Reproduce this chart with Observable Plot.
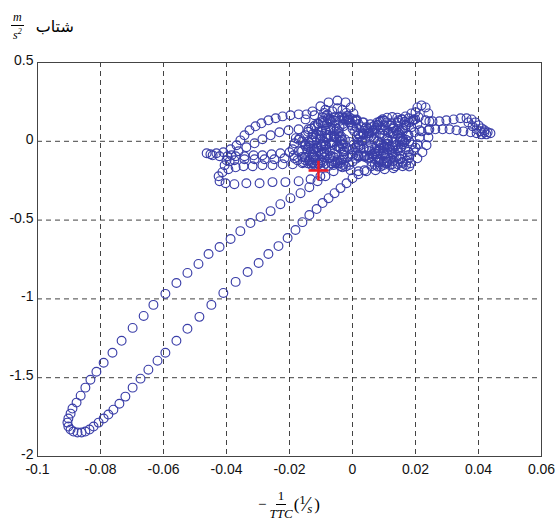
<!DOCTYPE html>
<html>
<head>
<meta charset="utf-8">
<script src="https://cdn.jsdelivr.net/npm/d3@7"></script>
<script src="https://cdn.jsdelivr.net/npm/@observablehq/plot@0.6"></script>
<style>
  html, body { margin: 0; padding: 0; background: #fff; }
  #wrap { position: relative; width: 555px; height: 524px; overflow: hidden; }
  #chart { position: absolute; left: 0; top: 0; }
  .frac { display: inline-flex; flex-direction: column; align-items: center; font-family: "Liberation Serif", serif; font-style: italic; line-height: 1; }
  .frac .num { border-bottom: 1px solid #000; padding: 0 2px 2px 2px; }
  .frac .den { padding-top: 2px; }
  #ttl { position: absolute; left: 11px; top: 11px; display: flex; align-items: center; gap: 12px; color: #000; }
  #ttl .frac { font-size: 12px; }
  #ttl .ar { font-family: "DejaVu Sans", sans-serif; font-size: 16px; }
  #xl { position: absolute; left: 37px; width: 504px; top: 489px; display: flex; justify-content: center; align-items: center; font-family: "Liberation Serif", serif; font-size: 15px; color: #000; }
  #xl .frac { font-size: 13px; font-style: normal; }
  #xl .frac .den { font-style: italic; }
  #xl .sl { display: inline-flex; align-items: center; font-size: 13px; }
  #xl .sl .a { position: relative; top: -5px; }
  #xl .sl .b { position: relative; top: 4px; font-style: italic; }
  #xl .sl .s { font-size: 20px; margin: 0 -1px; }
  #ttl sup { font-size: 8px; }
</style>
</head>
<body>
<div id="wrap">
  <div id="chart"></div>
  <div id="ttl">
    <span class="frac"><span class="num">m</span><span class="den">s<sup>2</sup></span></span>
    <span class="ar" dir="rtl">شتاب</span>
  </div>
  <div id="xl">
    <span style="margin-right:3px">−</span>
    <span class="frac"><span class="num">1</span><span class="den">TTC</span></span>
    <span style="font-size:17px;margin-left:1px">(</span><span class="sl"><span class="a">1</span><span class="s">⁄</span><span class="b">s</span></span><span style="font-size:17px;margin-left:2px">)</span>
  </div>
</div>
<script>
// Axis ticks
const xTicks = [-0.1, -0.08, -0.06, -0.04, -0.02, 0, 0.02, 0.04, 0.06];
const xTickLabels = ["-0.1", "-0.08", "-0.06", "-0.04", "-0.02", "0", "0.02", "0.04", "0.06"];
const yTicks = [0.5, 0, -0.5, -1, -1.5, -2];
const yTickLabels = ["0.5", "0", "-0.5", "-1", "-1.5", "-2"];

// Trajectory: -1/TTC (1/s) vs acceleration (m/s^2), read segment by segment
const upperX = [-0.0038,-0.0060,-0.0086,-0.0111,-0.0137,-0.0165,-0.0197,-0.0229,-0.0260,-0.0292,-0.0324,-0.0356,-0.0387,-0.0422,-0.0457,-0.0489,-0.0524,-0.0559,-0.0594,-0.0632,-0.0663,-0.0698,-0.0733,-0.0762,-0.0790,-0.0813,-0.0832,-0.0848,-0.0863,-0.0876,-0.0889,-0.0895,-0.0902,-0.0905,-0.0902,-0.0895,-0.0886,-0.0873];
const upperY = [-0.158,-0.190,-0.222,-0.253,-0.291,-0.329,-0.361,-0.399,-0.443,-0.481,-0.519,-0.570,-0.620,-0.671,-0.715,-0.778,-0.835,-0.899,-0.968,-1.038,-1.108,-1.184,-1.266,-1.342,-1.405,-1.462,-1.513,-1.563,-1.614,-1.658,-1.696,-1.728,-1.759,-1.785,-1.810,-1.829,-1.842,-1.848];

const lowerX = [-0.0860,-0.0848,-0.0835,-0.0822,-0.0806,-0.0790,-0.0775,-0.0759,-0.0740,-0.0721,-0.0698,-0.0673,-0.0648,-0.0619,-0.0594,-0.0559,-0.0524,-0.0486,-0.0448,-0.0410,-0.0371,-0.0333,-0.0298,-0.0267,-0.0235,-0.0206,-0.0181,-0.0159,-0.0137,-0.0114,-0.0095,-0.0076,-0.0057,-0.0038,-0.0019,0,0.0019,0.0038,0.0060,0.0083,0.0105,0.0127];
const lowerY = [-1.848,-1.842,-1.829,-1.810,-1.785,-1.759,-1.734,-1.703,-1.665,-1.620,-1.563,-1.506,-1.449,-1.392,-1.342,-1.266,-1.190,-1.114,-1.038,-0.962,-0.892,-0.829,-0.772,-0.715,-0.665,-0.614,-0.563,-0.513,-0.468,-0.430,-0.392,-0.361,-0.329,-0.297,-0.266,-0.234,-0.209,-0.184,-0.158,-0.133,-0.108,-0.082];

const loopAX = [-0.0070,-0.0095,-0.0121,-0.0146,-0.0171,-0.0197,-0.0222,-0.0244,-0.0267,-0.0289,-0.0308,-0.0327,-0.0343,-0.0356,-0.0368,-0.0387,-0.0410,-0.0432,-0.0451,-0.0463,-0.0444,-0.0422,-0.0397,-0.0371,-0.0343,-0.0314,-0.0286,-0.0257,-0.0229,-0.0200,-0.0171,-0.0143,-0.0114,-0.0086];
const loopAY = [0.127,0.152,0.165,0.171,0.171,0.165,0.158,0.146,0.133,0.114,0.095,0.070,0.038,0.006,-0.025,-0.051,-0.070,-0.076,-0.082,-0.076,-0.089,-0.095,-0.095,-0.095,-0.095,-0.089,-0.089,-0.082,-0.076,-0.070,-0.063,-0.051,-0.038,-0.025];

const loopA2X = [-0.0108,-0.0140,-0.0171,-0.0203,-0.0232,-0.0260,-0.0286,-0.0311,-0.0337,-0.0362,-0.0384,-0.0400,-0.0406,-0.0390,-0.0375,-0.0343,-0.0311,-0.0279,-0.0248,-0.0216,-0.0184,-0.0152,-0.0121,-0.0089];
const loopA2Y = [0.063,0.076,0.076,0.070,0.057,0.038,0.013,-0.013,-0.038,-0.063,-0.089,-0.120,-0.152,-0.127,-0.120,-0.114,-0.114,-0.114,-0.114,-0.108,-0.108,-0.101,-0.095,-0.082];

const loopBX = [-0.0063,-0.0095,-0.0127,-0.0159,-0.0190,-0.0222,-0.0254,-0.0286,-0.0317,-0.0346,-0.0371,-0.0394,-0.0413,-0.0425,-0.0422,-0.0403,-0.0375,-0.0337,-0.0295,-0.0254,-0.0213,-0.0171,-0.0133,-0.0102];
const loopBY = [-0.127,-0.133,-0.139,-0.139,-0.146,-0.146,-0.152,-0.152,-0.158,-0.158,-0.165,-0.177,-0.196,-0.222,-0.253,-0.266,-0.272,-0.266,-0.266,-0.259,-0.259,-0.253,-0.241,-0.222];

const core1X = [-0.0149,-0.0127,-0.0102,-0.0076,-0.0048,-0.0022,-0.0006,0.0003,0.0010,0.0013,0.0019,0.0032,0.0051,0.0073,0.0098,0.0124,0.0146,0.0165,0.0178,0.0187,0.0194,0.0200,0.0206,0.0219,0.0232,0.0241,0.0244,0.0244,0.0241,0.0235,0.0222,0.0206,0.0184,0.0159,0.0130,0.0102,0.0073,0.0044,0.0019,-0.0006,-0.0032,-0.0054,-0.0073,-0.0089,-0.0098,-0.0102,-0.0098,-0.0089,-0.0073,-0.0054,-0.0032,-0.0010,0.0013,0.0035,0.0057,0.0079,0.0102,0.0124,0.0146,0.0168,0.0187];
const core1Y = [0.139,0.190,0.222,0.247,0.259,0.247,0.215,0.177,0.133,0.089,0.044,0,-0.038,-0.063,-0.076,-0.070,-0.044,-0.006,0.038,0.089,0.139,0.184,0.215,0.228,0.215,0.177,0.127,0.076,0.025,-0.025,-0.070,-0.108,-0.139,-0.158,-0.171,-0.177,-0.184,-0.190,-0.190,-0.184,-0.165,-0.139,-0.108,-0.070,-0.025,0.019,0.063,0.101,0.133,0.152,0.158,0.152,0.139,0.120,0.108,0.101,0.101,0.114,0.133,0.158,0.177];

const tailX = [0.0210,0.0232,0.0254,0.0276,0.0298,0.0321,0.0343,0.0362,0.0378,0.0390,0.0400,0.0410,0.0419,0.0429,0.0438,0.0425,0.0410,0.0394,0.0375,0.0352,0.0330,0.0308,0.0286,0.0263,0.0241,0.0219,0.0197,0.0368,0.0381,0.0394,0.0406,0.0419];
const tailY = [0.152,0.133,0.127,0.127,0.133,0.139,0.146,0.146,0.139,0.120,0.101,0.082,0.070,0.057,0.051,0.044,0.044,0.051,0.057,0.063,0.070,0.076,0.076,0.076,0.070,0.063,0.057,0.120,0.095,0.076,0.063,0.057];

const core2X = [0.0175,0.0152,0.0130,0.0108,0.0086,0.0067,0.0054,0.0044,0.0032,0.0013,-0.0010,-0.0029,-0.0044,-0.0057,-0.0070,-0.0083,-0.0098,-0.0117,-0.0137,-0.0156,-0.0175,-0.0187,-0.0190,-0.0184,-0.0168,-0.0149,-0.0127,-0.0105,-0.0083,-0.0063,-0.0044,-0.0025,-0.0003,0.0019,0.0041,0.0063,0.0083,0.0098,0.0111,0.0121,0.0130,0.0143,0.0159,0.0178,0.0194,0.0206,0.0213,0.0213,0.0206,0.0194,0.0175,0.0152,0.0130,0.0108,0.0086,0.0063];
const core2Y = [0.038,0.013,-0.006,-0.019,-0.013,0.013,0.051,0.089,0.120,0.133,0.120,0.095,0.063,0.025,-0.013,-0.051,-0.082,-0.108,-0.127,-0.133,-0.120,-0.089,-0.051,-0.013,0.019,0.038,0.044,0.038,0.019,-0.006,-0.038,-0.063,-0.082,-0.095,-0.095,-0.082,-0.057,-0.025,0.013,0.051,0.089,0.120,0.139,0.146,0.133,0.108,0.070,0.025,-0.019,-0.057,-0.089,-0.114,-0.127,-0.127,-0.114,-0.095];

const core3X = [-0.0160,-0.0150,-0.0140,-0.0128,-0.0114,-0.0100,-0.0085,-0.0070,-0.0056,-0.0044,-0.0036,-0.0032,-0.0034,-0.0042,-0.0056,-0.0072,-0.0090,-0.0108,-0.0124,-0.0134,-0.0136,-0.0130,-0.0116,-0.0098,-0.0078,-0.0058,-0.0040,-0.0024,-0.0010,0.0004,0.0019,0.0035,0.0052,0.0070,0.0087,0.0101,0.0110,0.0113,0.0110,0.0101,0.0087,0.0070,0.0052,0.0036,0.0024,0.0017,0.0017,0.0024,0.0036,0.0052,0.0070,0.0090,0.0110,0.0128,0.0143,0.0153,0.0158,0.0158,0.0153,0.0143,0.0128,0.0110,0.0090,0.0070,0.0050,0.0032];
const core3Y = [-0.060,-0.030,0.000,0.025,0.045,0.060,0.068,0.070,0.064,0.050,0.030,0.008,-0.015,-0.035,-0.052,-0.062,-0.066,-0.062,-0.050,-0.032,-0.012,0.008,0.025,0.036,0.040,0.036,0.026,0.012,-0.004,-0.020,-0.034,-0.044,-0.050,-0.050,-0.044,-0.032,-0.016,0.002,0.020,0.036,0.048,0.054,0.052,0.044,0.030,0.012,-0.008,-0.028,-0.046,-0.062,-0.074,-0.080,-0.080,-0.072,-0.058,-0.040,-0.020,0.002,0.024,0.044,0.060,0.070,0.074,0.072,0.064,0.052];

const core4X = [-0.0150,-0.0138,-0.0124,-0.0108,-0.0092,-0.0076,-0.0060,-0.0046,-0.0036,-0.0030,-0.0028,-0.0030,-0.0038,-0.0050,-0.0066,-0.0084,-0.0100,-0.0114,-0.0124,-0.0128,-0.0126,-0.0118,-0.0104,-0.0086,-0.0066,-0.0048,-0.0032,-0.0016,0.0000,0.0018,0.0036,0.0054,0.0072,0.0090,0.0108,0.0126,0.0144,0.0160,0.0172,0.0180,0.0182,0.0178,0.0168,0.0154,0.0136,0.0118,0.0100,0.0086,0.0078,0.0078,0.0086,0.0100,0.0118,0.0136];
const core4Y = [-0.100,-0.118,-0.134,-0.146,-0.154,-0.156,-0.150,-0.138,-0.122,-0.104,-0.084,-0.064,-0.046,-0.032,-0.024,-0.024,-0.032,-0.046,-0.064,-0.084,-0.104,-0.122,-0.136,-0.142,-0.140,-0.130,-0.116,-0.102,-0.092,-0.088,-0.092,-0.102,-0.116,-0.130,-0.140,-0.146,-0.146,-0.138,-0.124,-0.106,-0.086,-0.066,-0.050,-0.038,-0.032,-0.034,-0.044,-0.060,-0.080,-0.100,-0.120,-0.136,-0.150,-0.158];

const core5X = [-0.0120,-0.0108,-0.0094,-0.0078,-0.0060,-0.0042,-0.0026,-0.0014,-0.0006,-0.0002,0.0000,0.0006,0.0018,0.0034,0.0050,0.0064,0.0074,0.0080,0.0086,0.0096,0.0110,0.0126,0.0142,0.0156,0.0166,0.0170,0.0168,0.0160,0.0146,0.0130,0.0114,0.0100,0.0090];
const core5Y = [0.090,0.112,0.130,0.144,0.152,0.154,0.148,0.136,0.120,0.100,0.080,0.062,0.050,0.046,0.052,0.066,0.084,0.104,0.124,0.140,0.150,0.154,0.150,0.140,0.124,0.104,0.084,0.066,0.054,0.050,0.056,0.070,0.088];

const core6X = [-0.0141,-0.0131,-0.0120,-0.0110,-0.0101,-0.0090,-0.0080,-0.0071,-0.0060,-0.0050,-0.0041,-0.0030,-0.0020,-0.0011,0.0000,0.0010,0.0019,0.0030,0.0040,0.0049,0.0060,0.0070,0.0079,0.0090,0.0100,0.0109,0.0120,0.0130,0.0139,0.0150,0.0160,0.0169,0.0180,0.0190,0.0199];
const core6Y = [0.06,0.08,0.10,0.11,0.12,0.12,0.11,0.09,0.08,0.08,0.09,0.11,0.13,0.14,0.14,0.13,0.11,0.09,0.08,0.08,0.09,0.10,0.12,0.13,0.13,0.12,0.10,0.08,0.07,0.07,0.08,0.10,0.12,0.13,0.14];

const core7X = [0.0200,0.0189,0.0180,0.0170,0.0161,0.0150,0.0140,0.0129,0.0120,0.0110,0.0101,0.0090,0.0080,0.0069,0.0060,0.0050,0.0041,0.0030,0.0020,0.0009,0.0000,-0.0010,-0.0019,-0.0030,-0.0040,-0.0051,-0.0060,-0.0070,-0.0079,-0.0090,-0.0100,-0.0111,-0.0120,-0.0130,-0.0139,-0.0150,-0.0160,-0.0171,-0.0180];
const core7Y = [-0.04,-0.02,0.00,0.01,0.01,0.00,-0.02,-0.04,-0.05,-0.05,-0.04,-0.02,0.00,0.02,0.03,0.03,0.02,0.00,-0.02,-0.04,-0.05,-0.05,-0.04,-0.02,0.00,0.02,0.03,0.03,0.02,0.00,-0.02,-0.04,-0.05,-0.05,-0.04,-0.02,0.00,0.01,0.02];

const core8X = [-0.0160,-0.0150,-0.0141,-0.0130,-0.0120,-0.0109,-0.0100,-0.0090,-0.0081,-0.0070,-0.0060,-0.0049,-0.0040,-0.0030,-0.0021,-0.0010,0.0000,0.0011,0.0020,0.0030,0.0039,0.0050,0.0060,0.0071,0.0080,0.0090,0.0099,0.0110,0.0120,0.0131,0.0140,0.0150,0.0159,0.0170,0.0180];
const core8Y = [-0.10,-0.12,-0.14,-0.15,-0.15,-0.14,-0.12,-0.10,-0.09,-0.09,-0.10,-0.12,-0.14,-0.15,-0.16,-0.15,-0.13,-0.11,-0.10,-0.09,-0.10,-0.11,-0.13,-0.15,-0.16,-0.16,-0.15,-0.13,-0.11,-0.10,-0.10,-0.11,-0.13,-0.15,-0.16];

const core9X = [-0.0080,-0.0064,-0.0048,-0.0032,-0.0020,-0.0018,-0.0026,-0.0040,-0.0056,-0.0072,-0.0084,-0.0090,-0.0086];
const core9Y = [0.17,0.19,0.21,0.20,0.18,0.16,0.14,0.13,0.13,0.14,0.16,0.18,0.20];

// Current state marker
const markerX = [-0.0108];
const markerY = [-0.186];

const segments = [
  [loopAX, loopAY], [loopA2X, loopA2Y], [loopBX, loopBY],
  [core1X, core1Y], [tailX, tailY], [core2X, core2Y],
  [core3X, core3Y], [core4X, core4Y], [core5X, core5Y],
  [core6X, core6Y], [core7X, core7Y], [core8X, core8Y], [core9X, core9Y],
  [upperX, upperY], [lowerX, lowerY]
];
const points = [];
for (const [xs, ys] of segments) {
  for (let i = 0; i < Math.min(xs.length, ys.length); i++) points.push({x: xs[i], y: ys[i]});
}
const marker = markerX.map((x, i) => ({x, y: markerY[i]}));

const crossSymbol = {
  draw(ctx, size) {
    const h = Math.sqrt(size) * 0.56;
    ctx.moveTo(-h, 0); ctx.lineTo(h, 0);
    ctx.moveTo(0, -h); ctx.lineTo(0, h);
  }
};

const chart = Plot.plot({
  width: 555,
  height: 490,
  marginTop: 62,
  marginLeft: 37,
  marginRight: 14,
  marginBottom: 34,
  style: {fontFamily: "'Liberation Sans', Arial, sans-serif", fontSize: "14px", color: "#111", background: "#fff"},
  x: {domain: [-0.1, 0.06]},
  y: {domain: [-2, 0.5]},
  marks: [
    Plot.gridX(xTicks.slice(1, -1), {stroke: "#222", strokeOpacity: 0.85, strokeDasharray: "5,4", strokeWidth: 1}),
    Plot.gridY(yTicks.slice(1, -1), {stroke: "#222", strokeOpacity: 0.85, strokeDasharray: "5,4", strokeWidth: 1}),
    Plot.axisX(xTicks, {tickSize: 0, tickPadding: 8, label: null, tickFormat: d => xTickLabels[xTicks.indexOf(d)], fontSize: 14}),
    Plot.axisY(yTicks, {tickSize: 0, tickPadding: 4, dy: -2, label: null, tickFormat: d => yTickLabels[yTicks.indexOf(d)], fontSize: 14}),
    Plot.dot(points, {x: "x", y: "y", r: 4.4, stroke: "#3a3ea8", strokeWidth: 1.15, fill: "none"}),
    Plot.frame({stroke: "#444", strokeWidth: 1}),
    Plot.dot(marker, {x: "x", y: "y", r: 10, symbol: crossSymbol, stroke: "#ee1c25", strokeWidth: 2.5, fill: "none"})
  ]
});
document.getElementById("chart").appendChild(chart);
</script>
</body>
</html>
